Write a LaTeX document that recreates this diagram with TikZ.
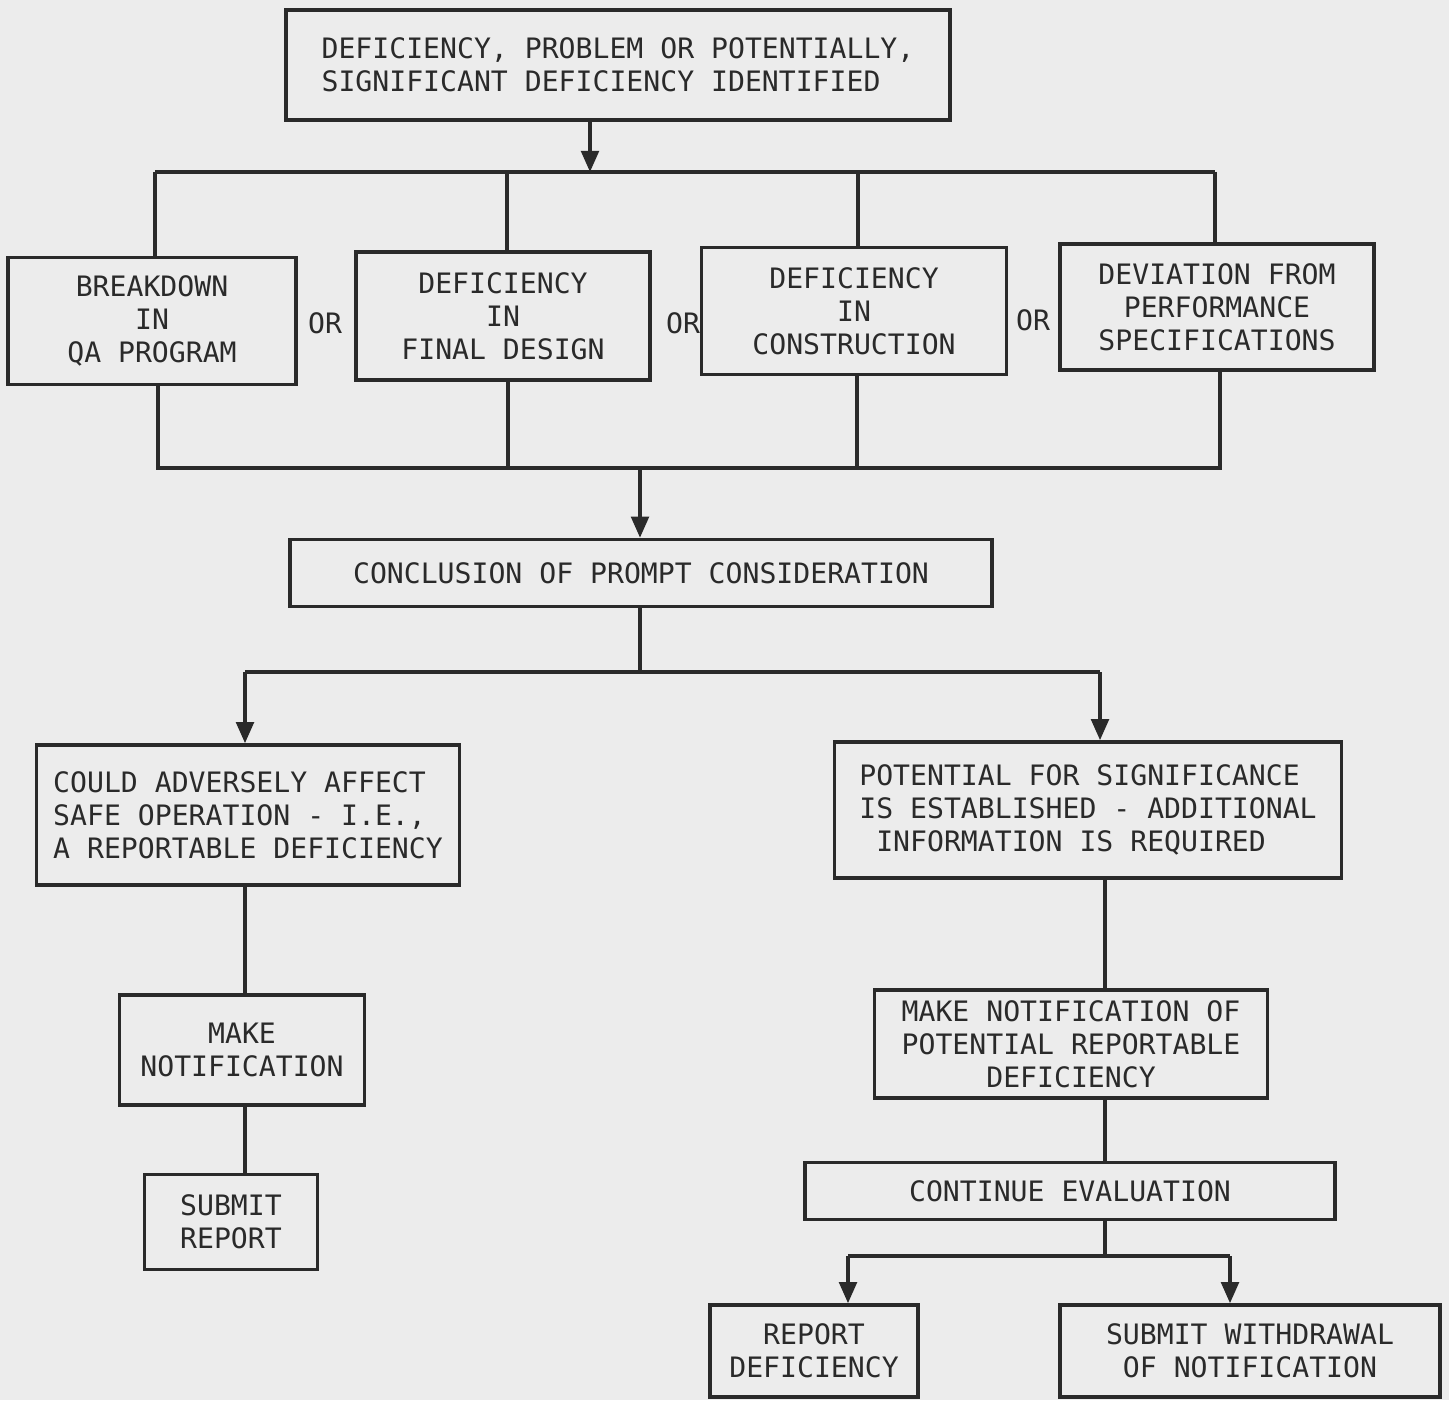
\documentclass[tikz,border=0pt]{standalone}
\usepackage{fontspec}
\newfontfamily\chartfont{DejaVu Sans Mono}
\usetikzlibrary{arrows.meta}
\definecolor{paper}{HTML}{ECECEC}
\definecolor{ink}{HTML}{2A2A2A}
\tikzset{
  box/.style={draw=ink, line width=1pt, inner sep=0pt, align=center, text=ink,
    font=\chartfont\fontsize{8}{9.4}\selectfont},
  orlabel/.style={text=ink, font=\chartfont\fontsize{8}{9.4}\selectfont},
  link/.style={draw=ink, line width=1pt},
  >={Triangle[length=6pt,width=5pt]}
}
\begin{document}
\begin{tikzpicture}[x=0.01cm, y=-0.01cm]
            \fill[paper] (0,0) rectangle (1449,1400);
            \useasboundingbox (0,0) rectangle (1449,1400);
            \node[box, align=left, minimum width=6.64cm, minimum height=1.1cm] (top) at (618,65)
              {DEFICIENCY, PROBLEM OR POTENTIALLY,\\SIGNIFICANT DEFICIENCY IDENTIFIED};
            \node[box, minimum width=2.88cm, minimum height=1.27cm] (qa) at (152,321)
              {BREAKDOWN\\IN\\QA PROGRAM};
            \node[box, minimum width=2.94cm, minimum height=1.28cm] (design) at (503,316)
              {DEFICIENCY\\IN\\FINAL DESIGN};
            \node[box, minimum width=3.05cm, minimum height=1.27cm] (constr) at (854,311)
              {DEFICIENCY\\IN\\CONSTRUCTION};
            \node[box, minimum width=3.14cm, minimum height=1.26cm] (perf) at (1217,307)
              {DEVIATION FROM\\PERFORMANCE\\SPECIFICATIONS};
            \node[orlabel] (or1) at (325,323) {OR};
            \node[orlabel] (or2) at (683,323) {OR};
            \node[orlabel] (or3) at (1033,320) {OR};
            \node[box, minimum width=7.02cm, minimum height=0.67cm] (concl) at (641,573)
              {CONCLUSION OF PROMPT CONSIDERATION};
            \node[box, align=left, minimum width=4.23cm, minimum height=1.4cm] (adverse) at (248,815)
              {COULD ADVERSELY AFFECT\\SAFE OPERATION - I.E.,\\A REPORTABLE DEFICIENCY};
            \node[box, align=left, minimum width=5.07cm, minimum height=1.36cm] (potential) at (1088,810)
              {POTENTIAL FOR SIGNIFICANCE\\IS ESTABLISHED - ADDITIONAL\\\ INFORMATION IS REQUIRED};
            \node[box, minimum width=2.45cm, minimum height=1.1cm] (notify) at (242,1050)
              {MAKE\\NOTIFICATION};
            \node[box, minimum width=1.73cm, minimum height=0.95cm] (submit) at (231,1222)
              {SUBMIT\\REPORT};
            \node[box, minimum width=3.93cm, minimum height=1.08cm] (makepot) at (1071,1044)
              {MAKE NOTIFICATION OF\\POTENTIAL REPORTABLE\\DEFICIENCY};
            \node[box, minimum width=5.3cm, minimum height=0.57cm] (contin) at (1070,1191)
              {CONTINUE EVALUATION};
            \node[box, minimum width=2.08cm, minimum height=0.92cm] (reportdef) at (814,1351)
              {REPORT\\DEFICIENCY};
            \node[box, minimum width=3.8cm, minimum height=0.92cm] (withdraw) at (1250,1351)
              {SUBMIT WITHDRAWAL\\OF NOTIFICATION};
            \coordinate (fork) at (590,172);
            \coordinate (busA) at (155,172);
            \coordinate (busB) at (507,172);
            \coordinate (busC) at (858,172);
            \coordinate (busD) at (1215,172);
            \coordinate (joinA) at (158,468);
            \coordinate (joinB) at (508,468);
            \coordinate (joinC) at (857,468);
            \coordinate (joinD) at (1220,468);
            \coordinate (merge) at (640,468);
            \coordinate (split) at (640,672);
            \coordinate (splitL) at (245,672);
            \coordinate (splitR) at (1100,672);
            \coordinate (colL) at (245,0);
            \coordinate (colR) at (1105,0);
            \coordinate (fork2) at (1105,1256);
            \coordinate (fork2L) at (848,1256);
            \coordinate (fork2R) at (1230,1256);
            \draw[link, ->] (top.south -| fork) -- (fork);
            \draw[link] (busA) -- (busD);
            \draw[link] (busA) -- (busA |- qa.north);
            \draw[link] (busB) -- (busB |- design.north);
            \draw[link] (busC) -- (busC |- constr.north);
            \draw[link] (busD) -- (busD |- perf.north);
            \draw[link] (qa.south -| joinA) -- (joinA) -- (joinD) -- (perf.south -| joinD);
            \draw[link] (design.south -| joinB) -- (joinB);
            \draw[link] (constr.south -| joinC) -- (joinC);
            \draw[link, ->] (merge) -- (merge |- concl.north);
            \draw[link] (concl.south -| split) -- (split);
            \draw[link] (splitL) -- (splitR);
            \draw[link, ->] (splitL) -- (splitL |- adverse.north);
            \draw[link, ->] (splitR) -- (splitR |- potential.north);
            \draw[link] (adverse.south -| colL) -- (notify.north -| colL);
            \draw[link] (notify.south -| colL) -- (submit.north -| colL);
            \draw[link] (potential.south -| colR) -- (makepot.north -| colR);
            \draw[link] (makepot.south -| colR) -- (contin.north -| colR);
            \draw[link] (contin.south -| fork2) -- (fork2);
            \draw[link] (fork2L) -- (fork2R);
            \draw[link, ->] (fork2L) -- (fork2L |- reportdef.north);
            \draw[link, ->] (fork2R) -- (fork2R |- withdraw.north);
        \end{tikzpicture}
\end{document}
